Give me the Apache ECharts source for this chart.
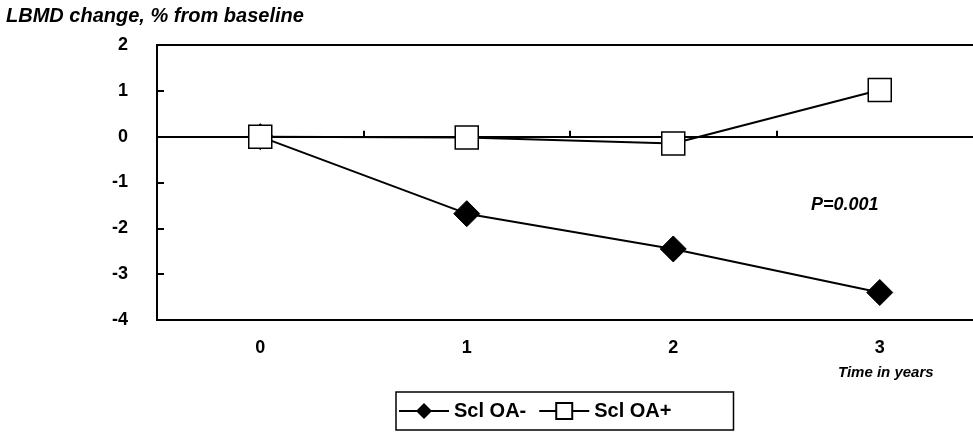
<!DOCTYPE html>
<html>
<head>
<meta charset="utf-8">
<script src="https://cdn.jsdelivr.net/npm/echarts@6/dist/echarts.min.js"></script>
<style>
  html, body { margin: 0; padding: 0; background: #fff; }
  #chart-container { width: 973px; height: 432px; }
</style>
</head>
<body>
<div id="chart-container"></div>
<script>
// years since baseline
var years = ['0', '1', '2', '3'];
// LBMD change, % from baseline
var sclOaMinus = [0, -1.68, -2.45, -3.4];
var sclOaPlus = [0, -0.02, -0.15, 1.02];
var yTicks = { min: -4, max: 2, step: 1 };

var dom = document.getElementById('chart-container');
var myChart = echarts.init(dom, null, { renderer: 'canvas' });

var boldFont = 'Liberation Sans, Arial, sans-serif';

var option = {
  animation: false,
  backgroundColor: '#fff',
  title: {
    text: 'LBMD change, % from baseline',
    left: 1,
    top: 1,
    textStyle: { fontFamily: boldFont, fontStyle: 'italic', fontWeight: 'bold', fontSize: 20, color: '#000' }
  },
  grid: {
    left: 157, top: 45, width: 826, height: 275,
    outerBoundsMode: 'none',
    containLabel: false,
    show: true, borderColor: '#000', borderWidth: 2, backgroundColor: 'transparent'
  },
  legend: {
    left: 396, top: 392,
    padding: [9, 62, 9, 2],
    itemGap: 12,
    itemWidth: 50,
    itemHeight: 20,
    borderColor: '#000',
    borderWidth: 1.5,
    textStyle: { fontFamily: boldFont, fontWeight: 'bold', fontSize: 20, color: '#000' },
    data: ['Scl OA-', 'Scl OA+']
  },
  xAxis: [
    {
      type: 'category',
      data: years,
      boundaryGap: true,
      axisLine: { onZero: true, lineStyle: { color: '#000', width: 2 } },
      axisTick: { show: true, inside: true, length: 6, lineStyle: { color: '#000', width: 2 } },
      axisLabel: { show: false },
      splitLine: { show: false }
    },
    {
      type: 'category',
      data: years,
      position: 'bottom',
      boundaryGap: true,
      axisLine: { show: false },
      axisTick: { show: false },
      axisLabel: { margin: 19, fontFamily: boldFont, fontWeight: 'bold', fontSize: 18, color: '#000' }
    }
  ],
  yAxis: {
    type: 'value',
    min: yTicks.min,
    max: yTicks.max,
    interval: yTicks.step,
    axisLine: { show: true, lineStyle: { color: '#000', width: 2 } },
    axisTick: { show: true, inside: true, length: 7, lineStyle: { color: '#000', width: 2 } },
    axisLabel: { margin: 29, fontFamily: boldFont, fontWeight: 'bold', fontSize: 18, color: '#000' },
    splitLine: { show: false }
  },
  graphic: [
    {
      type: 'text', left: 811, top: 196,
      style: { text: 'P=0.001', fontFamily: boldFont, fontStyle: 'italic', fontWeight: 'bold', fontSize: 18, fill: '#000' }
    },
    {
      type: 'text', left: 838, top: 365,
      style: { text: 'Time in years', fontFamily: boldFont, fontStyle: 'italic', fontWeight: 'bold', fontSize: 15, fill: '#000' }
    }
  ],
  series: [
    {
      name: 'Scl OA-',
      type: 'line',
      xAxisIndex: 0,
      data: sclOaMinus,
      symbol: 'diamond',
      symbolSize: 26,
      lineStyle: { color: '#000', width: 2 },
      itemStyle: { color: '#000', borderColor: '#000' },
      z: 3
    },
    {
      name: 'Scl OA+',
      type: 'line',
      xAxisIndex: 0,
      data: sclOaPlus,
      symbol: 'rect',
      symbolSize: 23,
      lineStyle: { color: '#000', width: 2 },
      itemStyle: { color: '#fff', borderColor: '#000', borderWidth: 1.5 },
      z: 4
    }
  ]
};

myChart.setOption(option);
window.addEventListener('resize', myChart.resize);
</script>
</body>
</html>
